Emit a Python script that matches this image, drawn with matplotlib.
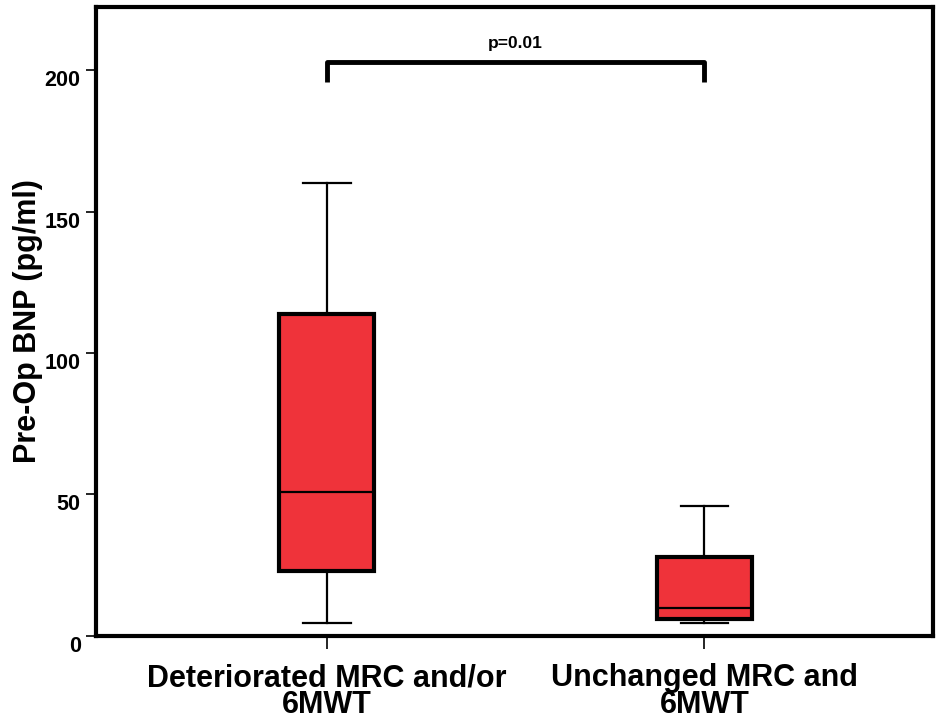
import matplotlib
matplotlib.use('Agg')
import matplotlib.pyplot as plt

# box summary values (pg/ml)
groups = ['Deteriorated MRC and/or\n6MWT', 'Unchanged MRC and\n6MWT']
whisker_low = [4.6, 4.6]
q1 = [22.9, 6.0]
median = [50.8, 9.9]
q3 = [113.7, 27.8]
whisker_high = [160.0, 45.8]
p_text = 'p=0.01'
bracket_y = [195.7, 203.0]
yticks = [0, 50, 100, 150, 200]

plt.rcParams['font.family'] = ['Liberation Sans', 'DejaVu Sans']
plt.rcParams['font.weight'] = 'bold'

fig = plt.figure(figsize=(9.38, 7.23), dpi=100)
ax = fig.add_axes([0.1023, 0.1210, 0.8924, 0.8693])

stats = []
for i in range(len(groups)):
    stats.append({
        'whislo': whisker_low[i], 'q1': q1[i], 'med': median[i],
        'q3': q3[i], 'whishi': whisker_high[i], 'fliers': [],
    })

positions = [1, 2]
ax.bxp(
    stats, positions=positions, widths=0.252, patch_artist=True,
    showfliers=False,
    boxprops={'facecolor': '#ef333a', 'edgecolor': 'black', 'linewidth': 3},
    medianprops={'color': 'black', 'linewidth': 1.6},
    whiskerprops={'color': 'black', 'linewidth': 1.6},
    capprops={'color': 'black', 'linewidth': 1.6},
    capwidths=0.125,
)

# significance bracket
ax.plot([1, 1, 2, 2], [bracket_y[0], bracket_y[1], bracket_y[1], bracket_y[0]],
        color='black', linewidth=3.5, solid_joinstyle='round',
        solid_capstyle='butt')
ax.text(1.5, 208.0, p_text, ha='center', va='baseline',
        fontsize=12.5, fontweight='bold')

ax.set_xlim(0.388, 2.606)
ax.set_ylim(0, 222.4)
ax.set_yticks(yticks)
ax.set_yticklabels([str(t) for t in yticks], fontsize=15.5, fontweight='bold',
                   va='top')
ax.set_xticks(positions)
ax.set_xticklabels(groups, fontsize=22, fontweight='bold', linespacing=0.84)
ax.tick_params(axis='y', length=7, width=1.2, direction='out', pad=4)
ax.tick_params(axis='x', length=9, width=1.2, direction='out', pad=11)
ax.set_ylabel('Pre-Op BNP (pg/ml)', fontsize=22, fontweight='bold', labelpad=1)

for side in ax.spines.values():
    side.set_linewidth(3)

fig.savefig('out.png', dpi=100)
